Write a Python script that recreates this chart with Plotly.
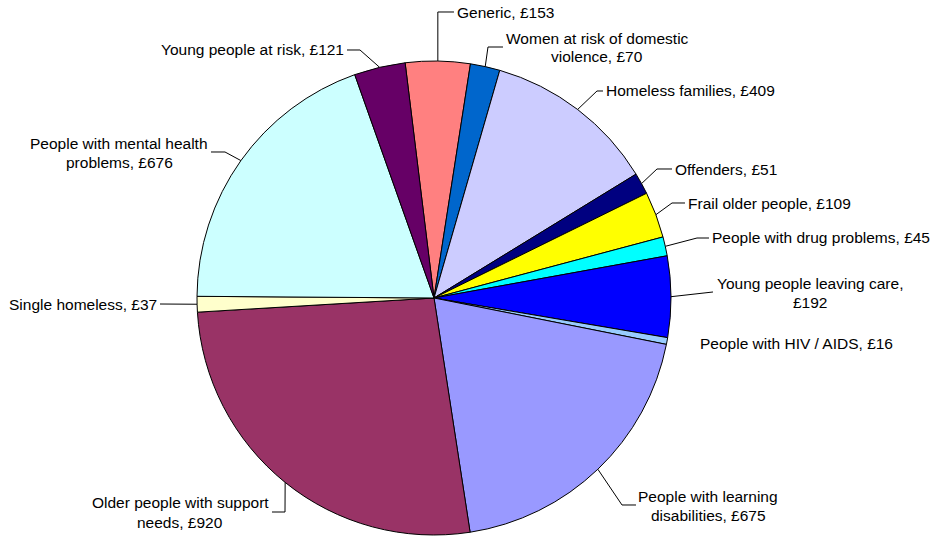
import math
import textwrap
import plotly.graph_objects as go

# Supporting People spend by client group (£), in drawing order (clockwise)
groups = [
    "Generic",
    "Women at risk of domestic violence",
    "Homeless families",
    "Offenders",
    "Frail older people",
    "People with drug problems",
    "Young people leaving care",
    "People with HIV / AIDS",
    "People with learning disabilities",
    "Older people with support needs",
    "Single homeless",
    "People with mental health problems",
    "Young people at risk",
]
spend = [153, 70, 409, 51, 109, 45, 192, 16, 675, 920, 37, 676, 121]

colours = [
    "#FF8080", "#0066CC", "#CCCCFF", "#000080", "#FFFF00", "#00FFFF",
    "#0000FF", "#99CCFF", "#9999FF", "#993366", "#FFFFCC", "#CCFFFF",
    "#660066",
]

# Page geometry (pixels)
W, H = 933, 539
CX, CY, R = 434, 298, 237
ROTATION = -7

# Label layout: wrap width, anchor x, first-line y, x-anchor, leader elbow points
wrap = [None, 25, None, None, None, None, 26, None, 20, 25, None, 25, None]
label_x = [456, 597, 605, 674, 687, 711, 810, 699, 708, 180, 158, 119, 345]
label_y = [13, 38, 91, 169, 203, 238, 283, 343, 496, 503, 304, 143, 50]
label_anchor = ["left", "center", "left", "left", "left", "left", "center",
                "left", "center", "center", "right", "center", "right"]
leader_pts = [
    [(None, 12), (454, 12)],
    [(488, 47), (503, 47)],
    [(597, 91), (603, 91)],
    [(657, 169), (672, 169)],
    [(672, 203), (685, 203)],
    [(697, 238), (709, 238)],
    [(713, 292)],
    None,
    [(622, 505), (636, 505)],
    [(285, 512), (272, 512)],
    [(160, 304)],
    [(225, 152), (211, 152)],
    [(360, 50), (347, 50)],
]
LINE_GAP = 19
FONT_SIZE = 15.5


def px(x):
    return x / W


def py(y):
    return 1 - y / H


fig = go.Figure(
    go.Pie(
        labels=groups,
        values=spend,
        sort=False,
        direction="clockwise",
        rotation=ROTATION,
        marker=dict(colors=colours, line=dict(color="#000000", width=1)),
        textinfo="none",
        hovertemplate="%{label}, £%{value}<extra></extra>",
        domain=dict(x=[px(CX - R), px(CX + R)], y=[py(CY + R), py(CY - R)]),
        showlegend=False,
    )
)

total = sum(spend)
annotations = []
shapes = []
cum = 0
for i, (g, v) in enumerate(zip(groups, spend)):
    mid = cum + v / 2
    cum += v
    theta = math.radians(ROTATION + 360 * mid / total)
    ex = CX + R * math.sin(theta)
    ey = CY - R * math.cos(theta)

    text = f"{g}, £{v}"
    lines = textwrap.wrap(text, wrap[i]) if wrap[i] else [text]
    for k, line in enumerate(lines):
        annotations.append(dict(
            x=px(label_x[i]), y=py(label_y[i] + k * LINE_GAP),
            xref="paper", yref="paper", text=line, showarrow=False,
            xanchor=label_anchor[i], yanchor="middle", borderpad=0,
            font=dict(family="Liberation Sans, Arial, sans-serif",
                      size=FONT_SIZE, color="#000000"),
        ))

    if leader_pts[i]:
        pts = [(ex, ey)]
        for (x, y) in leader_pts[i]:
            pts.append((ex if x is None else x, y))
        path = "M " + " L ".join(f"{px(x):.5f},{py(y):.5f}" for x, y in pts)
        shapes.append(dict(type="path", path=path, xref="paper", yref="paper",
                           line=dict(color="#000000", width=1)))

fig.update_layout(
    width=W, height=H,
    margin=dict(l=0, r=0, t=0, b=0),
    paper_bgcolor="#FFFFFF",
    plot_bgcolor="#FFFFFF",
    annotations=annotations,
    shapes=shapes,
)

fig.write_html("out.html")
